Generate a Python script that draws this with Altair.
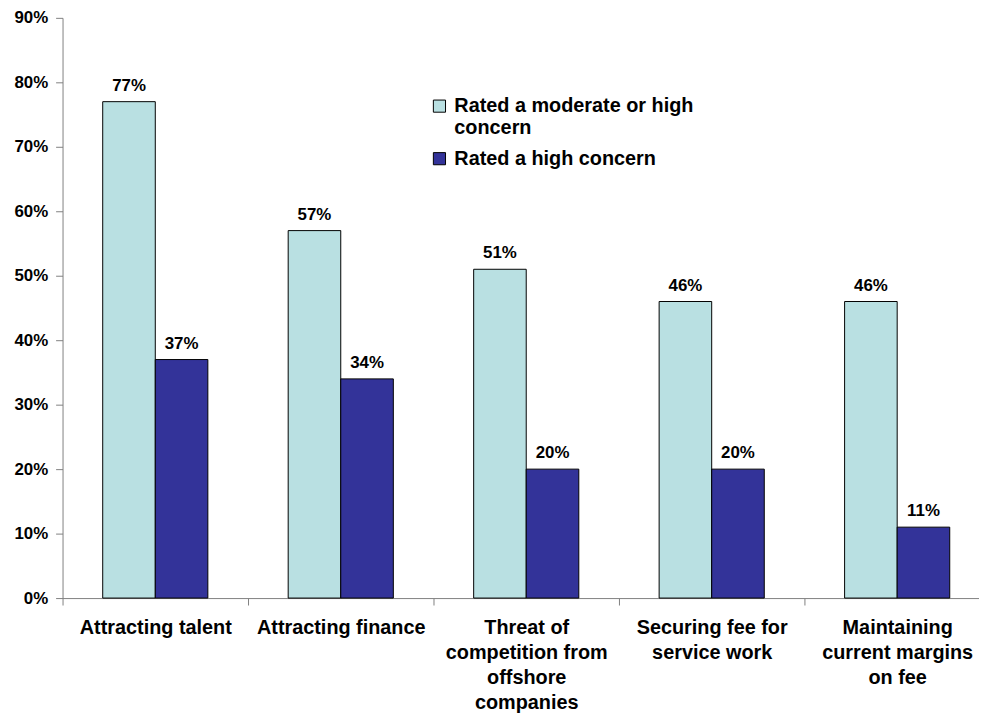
import altair as alt
import pandas as pd

categories = [
    "Attracting talent",
    "Attracting finance",
    "Threat of competition from offshore companies",
    "Securing fee for service work",
    "Maintaining current margins on fee",
]
label_lines = {
    "Attracting talent": ["Attracting talent"],
    "Attracting finance": ["Attracting finance"],
    "Threat of competition from offshore companies": ["Threat of", "competition from", "offshore", "companies"],
    "Securing fee for service work": ["Securing fee for", "service work"],
    "Maintaining current margins on fee": ["Maintaining", "current margins", "on fee"],
}
series = ["Rated a moderate or high concern", "Rated a high concern"]
moderate_or_high = [77, 57, 51, 46, 46]
high = [37, 34, 20, 20, 11]
colors = ["#B9E0E2", "#333399"]

rows = []
for c, a, b in zip(categories, moderate_or_high, high):
    rows.append({"cat": c, "series": series[0], "val": a / 100})
    rows.append({"cat": c, "series": series[1], "val": b / 100})
df = pd.DataFrame(rows)

FONT = "Liberation Sans"

x_label_expr = " : ".join(
    [f"datum.label == '{k}' ? {v!r}" for k, v in label_lines.items()]
) + " : datum.label"

x = alt.X(
    "cat:N",
    sort=categories,
    title=None,
    scale=alt.Scale(paddingInner=0, paddingOuter=0, range=[0, 935]),
    axis=alt.Axis(
        labelAngle=0,
        tickBand="extent",
        tickSize=7,
        tickColor="#808080",
        domainColor="#808080",
        labelFont=FONT,
        labelFontSize=20,
        labelFontWeight="bold",
        labelColor="#000000",
        labelPadding=13,
        labelLineHeight=25,
        labelLimit=400,
        labelBaseline="top",
        labelExpr=x_label_expr,
    ),
)
xo = alt.XOffset(
    "series:N", sort=series, scale=alt.Scale(paddingInner=0, paddingOuter=0.764)
)
y = alt.Y(
    "val:Q",
    title=None,
    scale=alt.Scale(domain=[0, 0.9], nice=False),
    axis=alt.Axis(
        values=[i / 10 for i in range(10)],
        format=".0%",
        grid=False,
        tickSize=7,
        tickColor="#808080",
        domainColor="#808080",
        labelFont=FONT,
        labelFontSize=17,
        labelFontWeight="bold",
        labelColor="#000000",
        labelPadding=8,
    ),
)

legend_label_expr = (
    f"datum.label == '{series[0]}' ? ['Rated a moderate or high', 'concern'] : datum.label"
)

bars = alt.Chart(df).mark_bar(stroke="#000000", strokeWidth=1).encode(
    x=x,
    xOffset=xo,
    y=y,
    color=alt.Color(
        "series:N",
        sort=series,
        scale=alt.Scale(domain=series, range=colors),
        legend=alt.Legend(
            title=None,
            orient="none",
            legendX=370,
            legendY=79,
            symbolType="square",
            symbolSize=150,
            symbolStrokeColor="#000000",
            symbolStrokeWidth=1,
            labelFont=FONT,
            labelFontSize=20,
            labelFontWeight="bold",
            labelColor="#000000",
            labelLimit=400,
            labelOffset=5,
            labelExpr=legend_label_expr,
            rowPadding=11,
        ),
    ),
)

text = alt.Chart(df).mark_text(
    baseline="bottom", dy=-7, font=FONT, fontSize=17, fontWeight="bold", color="#000000"
).encode(
    x=x,
    xOffset=xo,
    y=y,
    text=alt.Text("val:Q", format=".0%"),
)

chart = (
    alt.layer(bars, text)
    .properties(
        width=924,
        height=585,
        padding={"left": 55, "top": 7, "right": 0, "bottom": 120},
        autosize=alt.AutoSizeParams(type="none"),
        background="white",
    )
    .configure_view(stroke=None)
)

chart.save("out.html", embed_options={"renderer": "svg", "actions": False})
